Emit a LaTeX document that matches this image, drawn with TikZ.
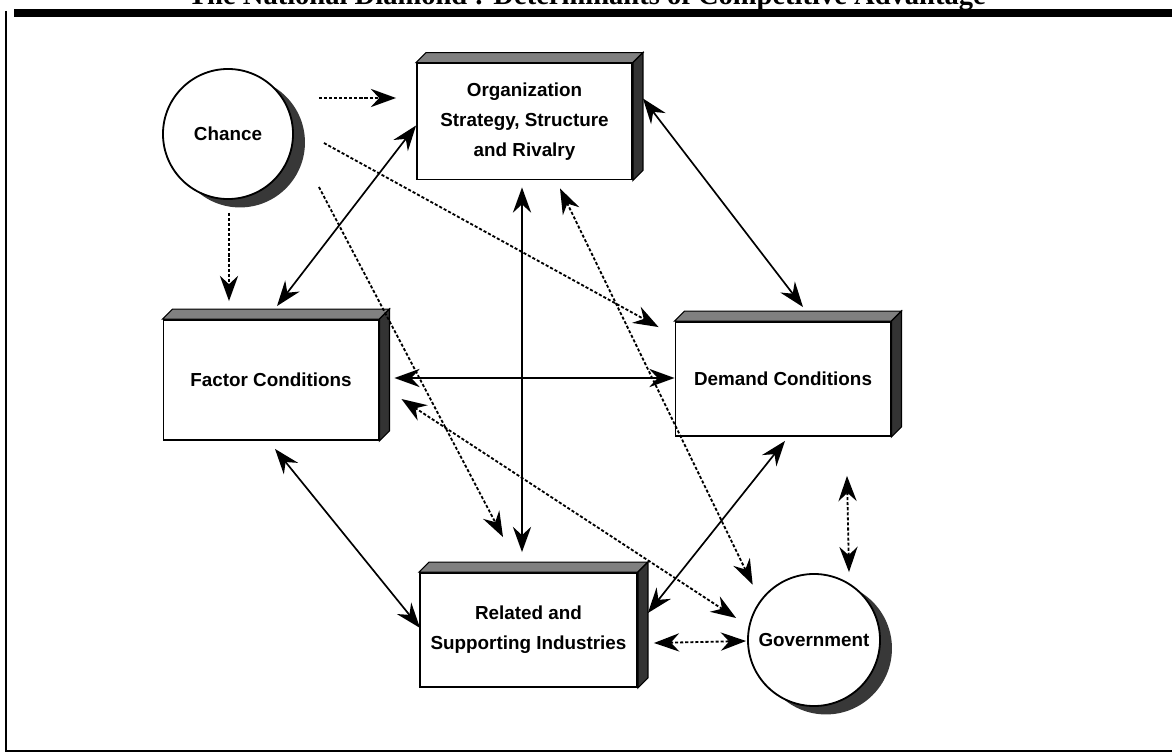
\documentclass[tikz,border=0pt]{standalone}
\usepackage{fontspec}
\setmainfont{Liberation Serif}
\setsansfont{Liberation Sans}
\usetikzlibrary{arrows.meta}

\begin{document}
\begin{tikzpicture}[x=0.025cm,y=-0.025cm,
    >={Stealth[length=18pt,width=13pt,inset=6pt]},
    label/.style={font=\sffamily\bfseries\fontsize{13.4}{21.3}\selectfont,align=center},
    box/.style={label,draw,fill=white,line width=1.3pt,inner sep=0pt,
        minimum width=5.375cm,minimum height=2.9cm},
    ball/.style={label,circle,draw,fill=white,line width=1.3pt,inner sep=0pt,
        preaction={fill=black!78,transform canvas={shift={(8.5pt,-6pt)}}}},
    topface/.style={fill=black!50,draw=black,line width=0.8pt},
    sideface/.style={fill=black!80,draw=black,line width=0.8pt},
    link/.style={<->,line width=1.2pt},
    hint/.style={line width=1.3pt,dash pattern=on 2.2pt off 1.4pt}]

    \useasboundingbox (0,0) rectangle (1172,754);

    % heading, cut at the top edge
    \node[anchor=base,font=\rmfamily\bfseries\fontsize{20.3}{24}\selectfont] (title) at (587,5)
        {The National Diamond : Determinants of Competitive Advantage};

    % frame
    \draw[line width=5pt] (14,13) -- (1172,13);
    \draw[line width=1.6pt] (6,11) -- (6,751) -- (1172,751);

    % the four determinants
    \node[box] (org) at (524.5,121.5) {Organization\\Strategy, Structure\\and Rivalry};
    \node[box,minimum height=3cm] (factor) at (271,380) {Factor Conditions};
    \node[box,minimum height=2.85cm] (demand) at (783,379) {Demand Conditions};
    \node[box,minimum height=2.85cm,minimum width=5.425cm] (related) at (528.5,630) {Related and\\Supporting Industries};

    % raised edges of the boxes
    \foreach \b in {org,factor,demand,related}{
        \filldraw[topface] (\b.north west) -- ++(10,-10) -- ([shift={(10,-10)}]\b.north east) -- (\b.north east) -- cycle;
        \filldraw[sideface] (\b.north east) -- ([shift={(10,-10)}]\b.north east) -- ([shift={(10,-10)}]\b.south east) -- (\b.south east) -- cycle;
    }

    % outside influences
    \node[ball,minimum size=3.25cm] (chance) at (228,134) {Chance};
    \node[ball,minimum size=3.3cm] (gov) at (814,640) {Government};

    % diamond links
    \draw[link] ([shift={(0,4)}]org.west) -- ([shift={(6,-13)}]factor.north);
    \draw[link] ([shift={(10,-23)}]org.east) -- ([shift={(20,-14)}]demand.north);
    \draw[link] ([shift={(-2.5,7)}]org.south) -- ([shift={(-6.5,-20)}]related.north);
    \draw[link] ([shift={(15,-2)}]factor.east) -- ([shift={(0,-1)}]demand.west);
    \draw[link] ([shift={(4,8)}]factor.south) -- ([shift={(1,-2)}]related.west);
    \draw[link] ([shift={(2,4)}]demand.south) -- ([shift={(10,-17)}]related.east);

    % chance acts on
    \draw[hint,->] ([shift={(25,-36)}]chance.east) -- ([shift={(-20,-23.5)}]org.west);
    \draw[hint,->] ([shift={(1,13)}]chance.south) -- ([shift={(-42,-18)}]factor.north);
    \draw[hint,->] ([shift={(30,9)}]chance.east) -- ([shift={(-16,6)}]demand.north west);
    \draw[hint,->] ([shift={(25,53)}]chance.east) -- ([shift={(-25.5,-35)}]related.north);

    % government and the determinants
    \draw[hint,<->] ([shift={(35.5,8)}]org.south) -- ([shift={(-14,-8)}]gov.north west);
    \draw[hint,<->] ([shift={(22,19)}]factor.east) -- ([shift={(-11,-22)}]gov.west);
    \draw[hint,<->] ([shift={(16,13)}]related.east) -- ([shift={(-1,1)}]gov.west);
    \draw[hint,<->] ([shift={(64,39)}]demand.south) -- ([shift={(35,-1)}]gov.north);

\end{tikzpicture}
\end{document}
